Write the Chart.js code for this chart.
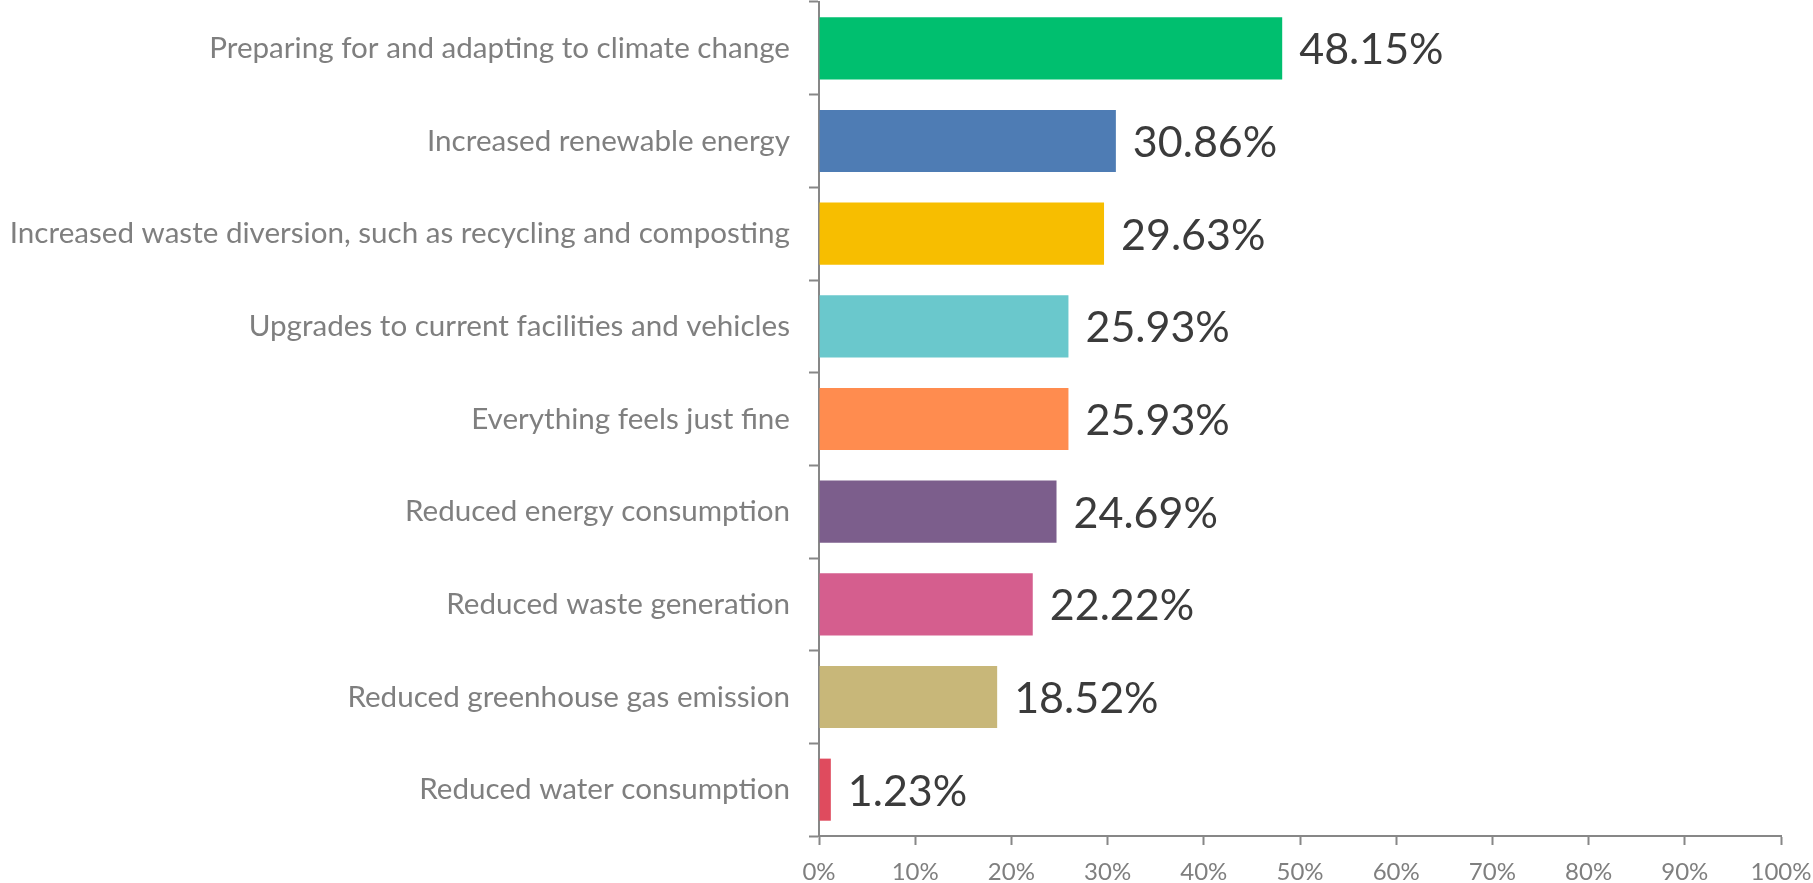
<!DOCTYPE html>
<html>
<head>
<meta charset="utf-8">
<script src="https://cdn.jsdelivr.net/npm/chart.js@4/dist/chart.umd.min.js"></script>
<style>
  html, body { margin: 0; padding: 0; background: #ffffff; }
  #wrap { position: relative; width: 1813px; height: 883px; }
</style>
</head>
<body>
<div id="wrap"><canvas id="c" width="1813" height="883"></canvas></div>
<script>
const categories = [
  "Preparing for and adapting to climate change",
  "Increased renewable energy",
  "Increased waste diversion, such as recycling and composting",
  "Upgrades to current facilities and vehicles",
  "Everything feels just fine",
  "Reduced energy consumption",
  "Reduced waste generation",
  "Reduced greenhouse gas emission",
  "Reduced water consumption"
];
const values = [48.15, 30.86, 29.63, 25.93, 25.93, 24.69, 22.22, 18.52, 1.23];
const barColors = ["#00BF6F", "#4E7CB4", "#F7BE00", "#6AC8CC", "#FF8C4F", "#7C5E8C", "#D55E8E", "#C8B779", "#DF4B5E"];
const xTickLabels = ["0%", "10%", "20%", "30%", "40%", "50%", "60%", "70%", "80%", "90%", "100%"];

const axisColor = "#878787";

const valueLabels = {
  id: "valueLabels",
  afterDatasetsDraw(chart) {
    const ctx = chart.ctx;
    const meta = chart.getDatasetMeta(0);
    ctx.save();
    ctx.font = "43px Lato";
    ctx.fillStyle = "#3b3b3b";
    ctx.textAlign = "left";
    ctx.textBaseline = "middle";
    meta.data.forEach((bar, i) => {
      ctx.fillText(values[i].toFixed(2) + "%", bar.x + 17, bar.y + 2);
    });
    ctx.restore();
  }
};

new Chart(document.getElementById("c"), {
  type: "bar",
  data: {
    labels: categories,
    datasets: [{
      data: values,
      backgroundColor: barColors,
      borderWidth: 0,
      categoryPercentage: 1.0,
      barPercentage: 0.67
    }]
  },
  options: {
    indexAxis: "y",
    responsive: false,
    animation: false,
    devicePixelRatio: 1,
    layout: { padding: { top: 2, right: 32, bottom: 0, left: 0 } },
    plugins: { legend: { display: false }, tooltip: { enabled: false } },
    scales: {
      x: {
        min: 0,
        max: 100,
        ticks: {
          stepSize: 10,
          color: "#7f7f7f",
          font: { family: "Lato", size: 24 },
          padding: 13,
          callback: (v, i) => xTickLabels[i]
        },
        grid: {
          drawOnChartArea: false,
          drawTicks: true,
          tickLength: 9,
          tickWidth: 2,
          color: axisColor
        },
        border: { display: true, color: axisColor, width: 2 },
        afterFit: (s) => { s.height = 47; s.paddingLeft = 0; s.paddingRight = 0; }
      },
      y: {
        ticks: {
          color: "#7f7f7f",
          font: { family: "Lato", size: 29.6 },
          padding: 19
        },
        grid: {
          offset: true,
          drawOnChartArea: false,
          drawTicks: true,
          tickLength: 10,
          tickWidth: 2,
          color: axisColor
        },
        border: { display: true, color: axisColor, width: 2 },
        afterFit: (s) => { s.width = 819; s.paddingTop = 0; s.paddingBottom = 0; }
      }
    }
  },
  plugins: [valueLabels]
});
</script>
</body>
</html>
